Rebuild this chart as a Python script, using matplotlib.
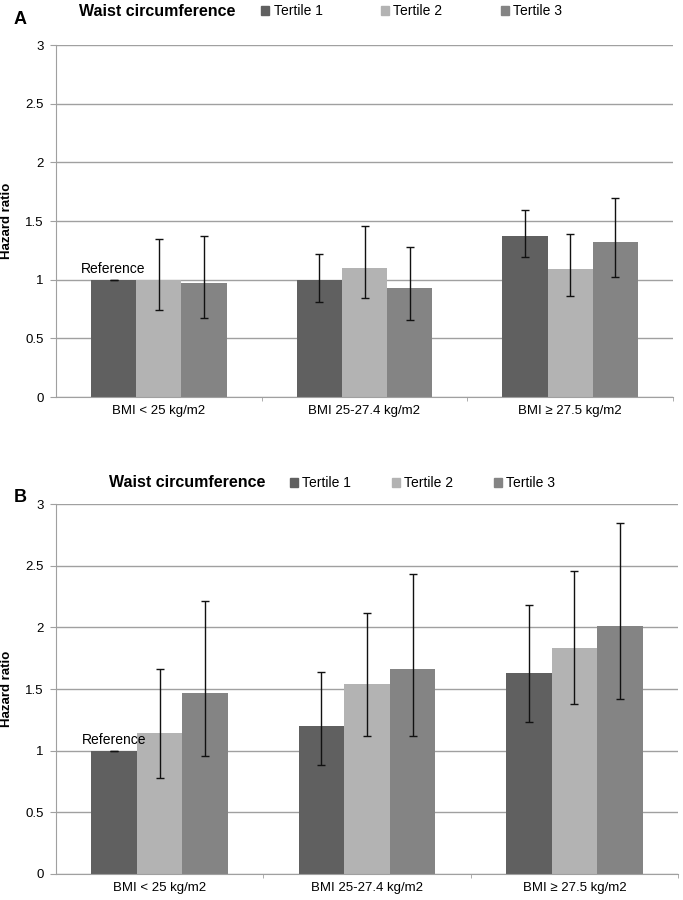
import numpy as np
import matplotlib.pyplot as plt
from matplotlib.patches import Patch

plt.rcParams['font.family'] = ['Liberation Sans', 'DejaVu Sans']

groups = ['BMI < 25 kg/m2', 'BMI 25-27.4 kg/m2', 'BMI \u2265 27.5 kg/m2']
tertiles = ['Tertile 1', 'Tertile 2', 'Tertile 3']
colors = ['#606060', '#b3b3b3', '#848484']

# panel A
a_hr = [[1.00, 1.00, 1.37],
        [1.00, 1.10, 1.09],
        [0.97, 0.93, 1.32]]
a_lo = [[1.00, 0.81, 1.19],
        [0.74, 0.84, 0.86],
        [0.67, 0.66, 1.02]]
a_hi = [[1.00, 1.22, 1.59],
        [1.35, 1.46, 1.39],
        [1.37, 1.28, 1.70]]

# panel B
b_hr = [[1.00, 1.20, 1.63],
        [1.14, 1.54, 1.83],
        [1.47, 1.66, 2.01]]
b_lo = [[1.00, 0.88, 1.23],
        [0.78, 1.12, 1.38],
        [0.96, 1.12, 1.42]]
b_hi = [[1.00, 1.64, 2.18],
        [1.66, 2.12, 2.46],
        [2.21, 2.43, 2.85]]

yticks = [0, 0.5, 1, 1.5, 2, 2.5, 3]
ytick_labels = ['0', '0.5', '1', '1.5', '2', '2.5', '3']

W, H = 683, 900
fig = plt.figure(figsize=(W / 100, H / 100), dpi=100)


def panel(rect, hr, lo, hi, letter, letter_xy, title_xy, leg_xy, colsp):
    ax = fig.add_axes(rect)
    x = np.arange(len(groups))
    w = 0.22
    for i in range(3):
        vals = np.array(hr[i])
        err = [vals - np.array(lo[i]), np.array(hi[i]) - vals]
        ax.bar(x + (i - 1) * w, vals, w, color=colors[i], zorder=2)
        ax.errorbar(x + (i - 1) * w, vals, yerr=err, fmt='none', ecolor='#111111',
                    elinewidth=1, capsize=3, capthick=1, zorder=3)
    ax.text(x[0] - w, 1.03, 'Reference', ha='center', va='bottom', fontsize=10, zorder=4)
    ax.set_xlim(-0.5, 2.5)
    ax.set_ylim(0, 3)
    ax.set_yticks(yticks)
    ax.set_yticklabels(ytick_labels, fontsize=9.5)
    ax.set_xticks(x)
    ax.set_xticklabels(groups, fontsize=9.5)
    ax.set_xticks([0.5, 1.5, 2.5], minor=True)
    ax.tick_params(axis='x', which='major', length=0, pad=6)
    ax.tick_params(axis='x', which='minor', length=3, color='#a0a0a0')
    ax.tick_params(axis='y', length=4, color='#a0a0a0', pad=5)
    ax.yaxis.grid(True, color='#a0a0a0', linewidth=1, zorder=0)
    ax.set_axisbelow(True)
    for s in ['top', 'right']:
        ax.spines[s].set_visible(False)
    for s in ['left', 'bottom']:
        ax.spines[s].set_color('#a0a0a0')
    ax.set_ylabel('Hazard ratio', fontsize=9.5, fontweight='bold')
    ax.yaxis.set_label_coords((13 - 56) / (rect[2] * W), 0.5)
    fig.text(letter_xy[0] / W, 1 - letter_xy[1] / H, letter, fontsize=13,
             fontweight='bold', ha='left', va='center')
    fig.text(title_xy[0] / W, 1 - title_xy[1] / H, 'Waist circumference', fontsize=11.5,
             fontweight='bold', ha='left', va='center')
    handles = [Patch(color=c) for c in colors]
    ax.legend(handles, tertiles, ncol=3, loc='center left', frameon=False,
              bbox_to_anchor=(leg_xy[0] / W, 1 - leg_xy[1] / H),
              bbox_transform=fig.transFigure, borderpad=0, borderaxespad=0,
              handlelength=0.6, handleheight=0.6, handletextpad=0.3,
              columnspacing=colsp, fontsize=10)
    return ax


panel([56 / W, 1 - 397 / H, 617 / W, 352 / H], a_hr, a_lo, a_hi, 'A',
      (14, 19), (79, 11), (261, 11), 4.2)
panel([56 / W, 1 - 874 / H, 622 / W, 370 / H], b_hr, b_lo, b_hi, 'B',
      (14, 498), (109, 483), (290, 483), 2.9)

fig.savefig('out.png', dpi=100)
